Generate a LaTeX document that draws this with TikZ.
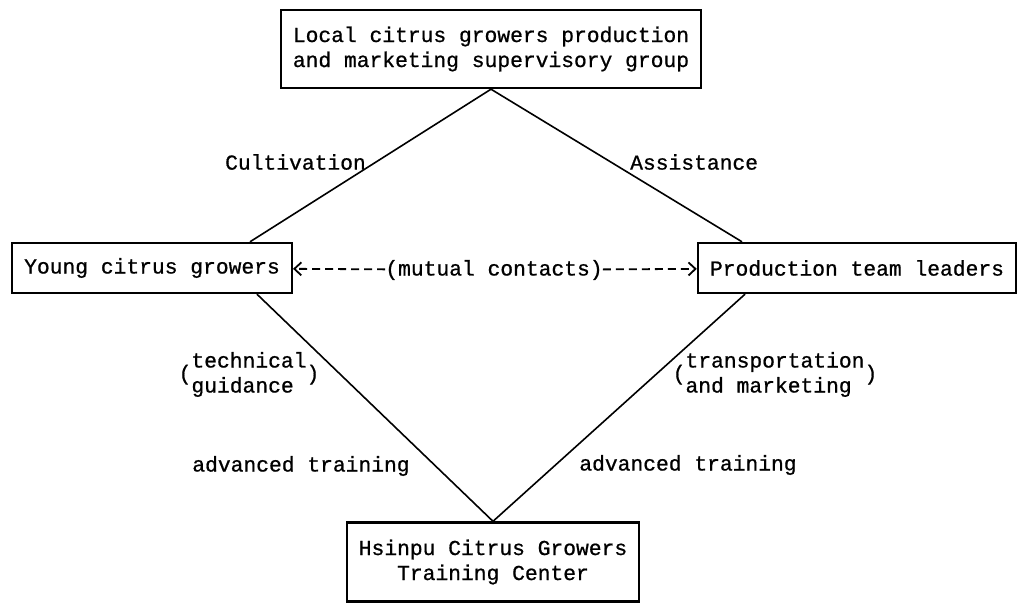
\documentclass[tikz,border=0pt]{standalone}
\usepackage{fontspec}
\setmonofont{Liberation Mono}[FakeBold=0.8]
\usepackage{tikz}
\usetikzlibrary{arrows.meta,positioning}
\newcommand{\tw}{\ttfamily\fontsize{21.3}{25}\selectfont}
\tikzset{
  box/.style={draw,line width=2.4pt,align=center,font=\tw,inner xsep=12pt,inner ysep=0pt},
  lbl/.style={font=\tw,inner sep=0pt,align=left},
  ln/.style={line width=1.6pt},
  arr/.style={-{Straight Barb[length=7pt,width=13pt,line width=1.8pt]},line width=1.8pt,dash pattern=on 8pt off 5pt},
}
\begin{document}
\begin{tikzpicture}[x=1pt,y=-1pt]
\useasboundingbox (0,0) rectangle (1019,607);
\node[box,minimum height=78pt] (sup) at (491,49) {Local citrus growers production\\and marketing supervisory group};
\node[box,minimum height=50pt] (young) at (152,268) {Young citrus growers};
\node[box,minimum height=50pt] (lead) at (857,268) {Production team leaders};
\node[box,minimum height=79pt] (ctr) at (493,562) {Hsinpu Citrus Growers\\Training Center};
\node[lbl] (mut) at (494,270) {(mutual contacts)};
\draw[arr] (mut) -- (young);
\draw[arr] (mut) -- (lead);
\draw[ln] (sup.south) -- ([xshift=98pt]young.north);
\draw[ln] (sup.south) -- ([xshift=-115pt]lead.north);
\draw[ln] ([xshift=105pt]young.south) -- (ctr.north);
\draw[ln] ([xshift=-112pt]lead.south) -- (ctr.north);
\node[lbl,anchor=east] (cult) at (366,162) {Cultivation};
\node[lbl,anchor=west] (assist) at (630,162) {Assistance};
\node[lbl] (tech) at (249,375) {(\begin{tabular}{@{}l@{}}technical\\guidance\end{tabular})};
\node[lbl] (trans) at (775,375) {(\begin{tabular}{@{}l@{}}transportation\\and marketing\end{tabular})};
\node[lbl] (advl) at (301,466) {advanced training};
\node[lbl] (advr) at (688,465) {advanced training};
\end{tikzpicture}
\end{document}
